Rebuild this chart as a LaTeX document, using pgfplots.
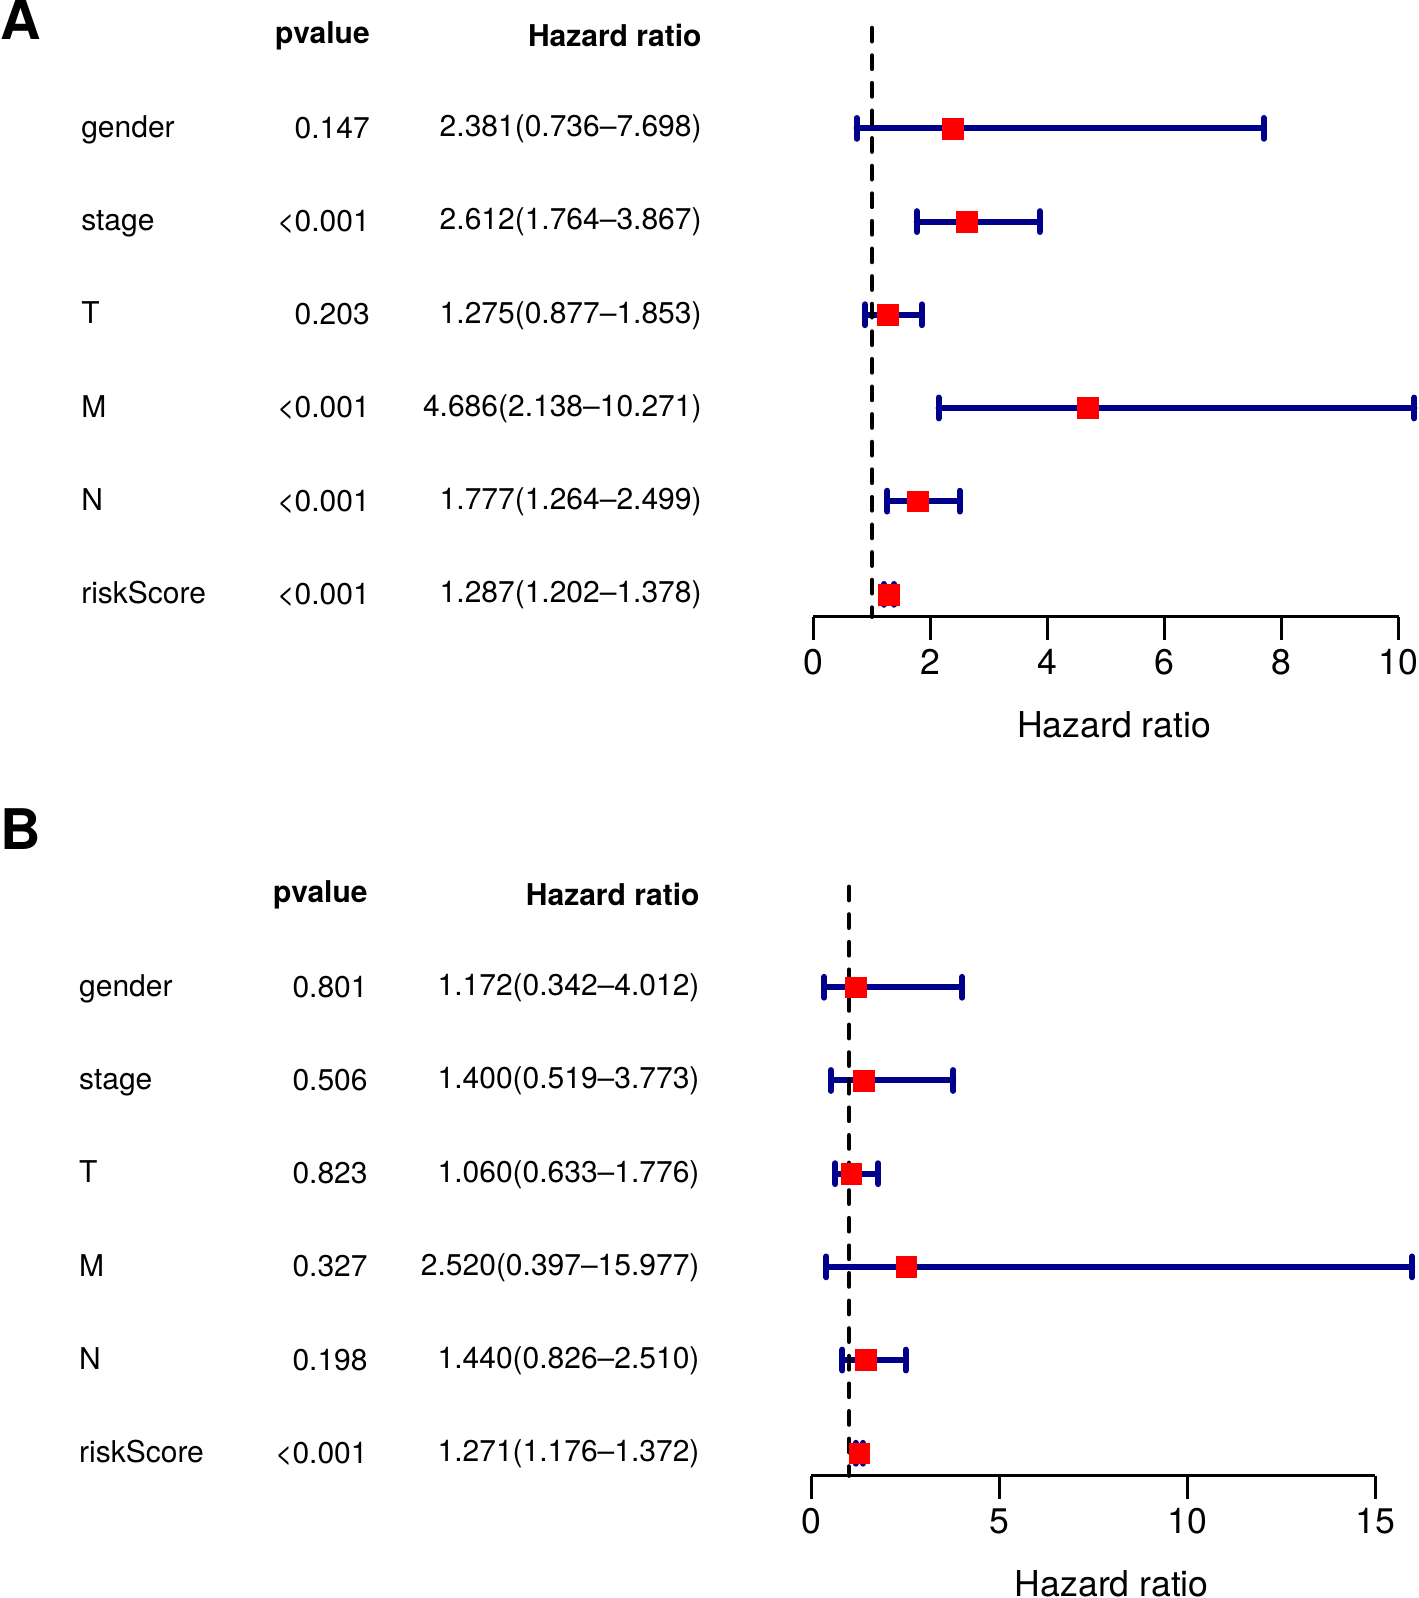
\documentclass[border=0pt]{standalone}
\usepackage{pgfplots}
\pgfplotsset{compat=1.18}
\usepackage{pgfplotstable}
\usepackage{fontspec}
\setmainfont{TeX Gyre Heros}

\definecolor{hrblue}{HTML}{00008B}
\definecolor{hrred}{HTML}{FF0000}

\newcommand\tabfont{\fontsize{7.5}{9}\selectfont}
\newcommand\hdfont{\fontsize{7.5}{9}\selectfont\bfseries}
\newcommand\axfont{\fontsize{8.9}{10}\selectfont}
\newcommand\panfont{\fontsize{14}{16}\selectfont\bfseries}

% one table row: row, name, p value, HR text
\newcommand\rowtext[4]{%
  \node[anchor=base west,inner sep=0pt,font=\tabfont,xshift=-183.25pt,yshift=-2.3pt] at (axis cs:0,#1) {#2};
  \node[anchor=base east,inner sep=0pt,font=\tabfont,xshift=-110.75pt,yshift=-2.5pt] at (axis cs:0,#1) {#3};
  \node[anchor=base east,inner sep=0pt,font=\tabfont,xshift=-27.78pt,yshift=-2.1pt] at (axis cs:0,#1) {#4};
}

% univariate
\pgfplotstableread{
row hr lo hi
6 2.381 0.736 7.698
5 2.612 1.764 3.867
4 1.275 0.877 1.853
3 4.686 2.138 10.271
2 1.777 1.264 2.499
1 1.287 1.202 1.378
}\tabA

% multivariate
\pgfplotstableread{
row hr lo hi
6 1.172 0.342 4.012
5 1.400 0.519 3.773
4 1.060 0.633 1.776
3 2.520 0.397 15.977
2 1.440 0.826 2.510
1 1.271 1.176 1.372
}\tabB

\pgfplotsset{
  forest/.style={
    anchor=south west, scale only axis,
    height=150.98pt, ymin=0.76, ymax=7.24,
    clip=false,
    axis x line*=bottom, axis y line=none,
    x axis line style={-, line width=0.7pt},
    ytick=\empty,
    tick align=outside, major tick length=5.8pt,
    xtick style={black, line width=0.7pt},
    /pgf/number format/assume math mode=true,
    xticklabel style={font=\axfont, anchor=base, inner sep=0pt, yshift=-8.55pt},
    xlabel={Hazard ratio},
  },
  cibars/.style={draw=none, mark=none,
    error bars/.cd, x dir=both, x explicit, error mark=|,
    error bar style={draw=hrblue, line width=1.5pt, line cap=round, solid},
    error mark options={draw=hrblue, line width=1.5pt, mark size=2.6pt, line cap=round, solid}},
  refline/.style={black, line width=1.15pt, line cap=round, dash pattern=on 3.3pt off 3.6pt},
  hrbox/.style={only marks, mark=square*, mark size=2.6pt,
    mark options={draw=hrred, fill=hrred, line width=0.1pt}},
}

\begin{document}
\begin{tikzpicture}
\useasboundingbox (0,0) rectangle (354.5pt,-399.5pt);

\begin{axis}[forest,
  at={(203.375pt,-154.175pt)},
  width=146.28pt, xmin=0, xmax=10,
  xtick={0,2,4,6,8,10},
  xlabel style={font=\axfont, inner sep=0pt, anchor=base, at={(axis description cs:0.5136,0)}, yshift=-30.15pt},
]
\addplot[cibars] table[x=hr, y=row,
  x error plus expr=\thisrow{hi}-\thisrow{hr},
  x error minus expr=\thisrow{hr}-\thisrow{lo}] {\tabA};
\addplot[refline] coordinates {(1,7.077) (1,0.76)};
\addplot[hrbox] table[x=hr, y=row] {\tabA};

\node[anchor=base west,inner sep=0pt,font=\panfont,xshift=-203.375pt,yshift=-1.2pt] at (axis cs:0,7) {A};
\node[anchor=base east,inner sep=0pt,font=\hdfont,xshift=-110.75pt,yshift=-2.1pt] at (axis cs:0,7) {pvalue};
\node[anchor=base east,inner sep=0pt,font=\hdfont,xshift=-27.78pt,yshift=-2.88pt] at (axis cs:0,7) {Hazard ratio};
\rowtext{6}{gender}{0.147}{2.381(0.736–7.698)}
\rowtext{5}{stage}{<0.001}{2.612(1.764–3.867)}
\rowtext{4}{T}{0.203}{1.275(0.877–1.853)}
\rowtext{3}{M}{<0.001}{4.686(2.138–10.271)}
\rowtext{2}{N}{<0.001}{1.777(1.264–2.499)}
\rowtext{1}{riskScore}{<0.001}{1.287(1.202–1.378)}
\end{axis}

\begin{axis}[forest,
  at={(202.85pt,-368.9pt)},
  width=141pt, xmin=0, xmax=15,
  xtick={0,5,10,15},
  xlabel style={font=\axfont, inner sep=0pt, anchor=base, at={(axis description cs:0.5326,0)}, yshift=-30.15pt},
]
\addplot[cibars] table[x=hr, y=row,
  x error plus expr=\thisrow{hi}-\thisrow{hr},
  x error minus expr=\thisrow{hr}-\thisrow{lo}] {\tabB};
\addplot[refline] coordinates {(1,7.077) (1,0.76)};
\addplot[hrbox] table[x=hr, y=row] {\tabB};

\node[anchor=base west,inner sep=0pt,font=\panfont,xshift=-202.85pt,yshift=11.2pt] at (axis cs:0,7) {B};
\node[anchor=base east,inner sep=0pt,font=\hdfont,xshift=-110.75pt,yshift=-2.1pt] at (axis cs:0,7) {pvalue};
\node[anchor=base east,inner sep=0pt,font=\hdfont,xshift=-27.78pt,yshift=-2.88pt] at (axis cs:0,7) {Hazard ratio};
\rowtext{6}{gender}{0.801}{1.172(0.342–4.012)}
\rowtext{5}{stage}{0.506}{1.400(0.519–3.773)}
\rowtext{4}{T}{0.823}{1.060(0.633–1.776)}
\rowtext{3}{M}{0.327}{2.520(0.397–15.977)}
\rowtext{2}{N}{0.198}{1.440(0.826–2.510)}
\rowtext{1}{riskScore}{<0.001}{1.271(1.176–1.372)}
\end{axis}
\end{tikzpicture}
\end{document}
